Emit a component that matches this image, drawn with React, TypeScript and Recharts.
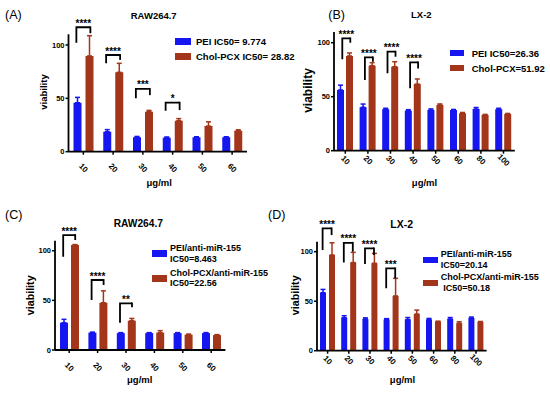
import React from 'react';
import { BarChart, Bar, XAxis, YAxis, ErrorBar, ReferenceLine, Legend } from 'recharts';

const FONT = '"Liberation Sans", Arial, Helvetica, sans-serif';
const BLUE = '#1616f0';
const BROWN = '#a3361a';

// ---------- Panel A: RAW264.7 ----------
const A_CATS = ['10', '20', '30', '40', '50', '60'];
const A_PEI = [45.9, 18.7, 13.5, 13, 13.5, 13.5];
const A_PEI_ERR = [5, 2, 0.8, 0.8, 0.5, 0.5];
const A_CHOL = [89.7, 74.4, 37.5, 29, 24, 19.7];
const A_CHOL_ERR = [19, 8.4, 1.2, 2, 4, 0.8];
const A_NAMES = ['PEI IC50= 9.774', 'Chol-PCX IC50= 28.82'];
const A_BRACKETS = [
  { cat: '10', top: 116.6, left: 102, right: 111, label: '****' },
  { cat: '20', top: 90.6, left: 82.8, right: 86, label: '****' },
  { cat: '30', top: 58.8, left: 50, right: 53, label: '***' },
  { cat: '40', top: 46, left: 38.4, right: 39, label: '*' },
];

// ---------- Panel B: LX-2 ----------
const B_CATS = ['10', '20', '30', '40', '50', '60', '80', '100'];
const B_PEI = [56.2, 40.2, 38.3, 37, 37.7, 37.7, 38.5, 38.3];
const B_PEI_ERR = [4.5, 3, 1, 1, 1, 0.5, 1.5, 1];
const B_CHOL = [87.7, 78.7, 77.8, 61.7, 42.3, 34.6, 33, 34];
const B_CHOL_ERR = [2.8, 2.8, 4.6, 4.7, 1, 0.8, 0.6, 0.5];
const B_NAMES = ['PEI IC50=26.36', 'Chol-PCX=51.92'];
const B_BRACKETS = [
  { cat: '10', top: 104, left: 84.6, right: 100, label: '****' },
  { cat: '20', top: 86.4, left: 65.5, right: 82.4, label: '****' },
  { cat: '30', top: 91.7, left: 71.7, right: 87, label: '****' },
  { cat: '40', top: 81.8, left: 57.8, right: 76, label: '****' },
];

// ---------- Panel C: RAW264.7 anti-miR-155 ----------
const C_CATS = ['10', '20', '30', '40', '50', '60'];
const C_PEI = [27.5, 17.5, 17, 17, 17, 17];
const C_PEI_ERR = [3.4, 0.5, 0.5, 0.5, 0.5, 0.5];
const C_CHOL = [105.7, 47.6, 29.5, 17.5, 15.5, 15];
const C_CHOL_ERR = [0.5, 12, 2.3, 2, 0.5, 0.5];
const C_NAMES = ['PEI/anti-miR-155\nIC50=8.463', 'Chol-PCX/anti-miR-155\nIC50=22.56'];
const C_BRACKETS = [
  { cat: '10', top: 115.8, left: 94, right: 110.8, label: '****' },
  { cat: '20', top: 70.5, left: 50.4, right: 65.5, label: '****' },
  { cat: '30', top: 47, left: 27.5, right: 43, label: '**' },
];

// ---------- Panel D: LX-2 anti-miR-155 ----------
const D_CATS = ['10', '20', '30', '40', '50', '60', '80', '100'];
const D_PEI = [58.6, 33.3, 32, 31.6, 31.5, 31.6, 32, 33];
const D_PEI_ERR = [3.3, 2, 1.2, 0.8, 2, 1, 1.5, 1];
const D_CHOL = [96.7, 89, 88.3, 55.3, 37, 29.3, 27.7, 29];
const D_CHOL_ERR = [12.3, 10.3, 10, 17.8, 4, 0.5, 1.5, 0.5];
const D_NAMES = ['PEI/anti-miR-155\nIC50=20.14', 'Chol-PCX/anti-miR-155\n IC50=50.18'];
const D_BRACKETS = [
  { cat: '10', top: 123.6, left: 101.7, right: 116.8, label: '****' },
  { cat: '20', top: 109, left: 89, right: 100, label: '****' },
  { cat: '30', top: 103.4, left: 87.6, right: 96.7, label: '****' },
  { cat: '40', top: 83.2, left: 63, right: 73, label: '***' },
];

const Y_TICKS = [0, 50, 100];
const Y_DOMAIN = [0, 110];
const SERIES_ORDER = ['pei', 'chol'];

function buildRows(cats: string[], pei: number[], peiErr: number[], chol: number[], cholErr: number[]) {
  return cats.map((c, i) => ({
    cat: c,
    pei: pei[i],
    peiErr: [0, peiErr[i]],
    chol: chol[i],
    cholErr: [0, cholErr[i]],
  }));
}

type Bracket = { cat: string; top: number; left: number; right: number; label: string };

type LegendCfg = {
  left: number;
  top: number;
  swW: number;
  swH: number;
  swGap: number;
  fontSize: number;
  lineHeight: number;
  itemGap: number;
};

type PanelProps = {
  left: number;
  top: number;
  margin: { top: number; right: number; bottom: number; left: number };
  rows: any[];
  names: string[];
  barSize: number;
  barGap: number;
  brackets: Bracket[];
  offL: number;
  offR: number;
  tickOff: number;
  legend: LegendCfg;
};

function makeTick(off: number) {
  return (p: any) => {
    const x = p.x;
    const cy = p.y + off;
    return (
      <text
        x={x}
        y={cy}
        transform={`rotate(45 ${x} ${cy})`}
        textAnchor="middle"
        dominantBaseline="central"
        fontSize={8}
        fontWeight="bold"
        fontFamily={FONT}
        fill="#000"
      >
        {p.payload.value}
      </text>
    );
  };
}

function makeLegend(cfg: LegendCfg) {
  return (props: any) => {
    const payload = [...(props.payload || [])].sort(
      (a: any, b: any) => SERIES_ORDER.indexOf(a.dataKey) - SERIES_ORDER.indexOf(b.dataKey)
    );
    return (
      <div style={{ fontFamily: FONT, fontWeight: 'bold', fontSize: cfg.fontSize, lineHeight: `${cfg.lineHeight}px`, color: '#000' }}>
        {payload.map((entry: any, i: number) => (
          <div key={i} style={{ display: 'flex', alignItems: 'center', marginBottom: cfg.itemGap }}>
            <span style={{ display: 'inline-block', width: cfg.swW, height: cfg.swH, background: entry.color, marginRight: cfg.swGap, flex: 'none' }} />
            <span style={{ whiteSpace: 'pre' }}>{entry.value}</span>
          </div>
        ))}
      </div>
    );
  };
}

function Panel(props: PanelProps) {
  const { left, top, margin, rows, names, barSize, barGap, brackets, offL, offR, tickOff, legend } = props;
  const mid = (offL + offR) / 2;
  return (
    <div style={{ position: 'absolute', left, top, width: 275, height: 197 }}>
      <BarChart width={275} height={197} data={rows} margin={margin} barSize={barSize} barGap={barGap}>
        <XAxis
          dataKey="cat"
          height={30}
          interval={0}
          tickSize={3}
          tickLine={{ stroke: '#000', strokeWidth: 1.5 }}
          axisLine={{ stroke: '#000', strokeWidth: 1.8 }}
          tick={makeTick(tickOff)}
        />
        <YAxis
          width={30}
          domain={Y_DOMAIN}
          ticks={Y_TICKS}
          allowDataOverflow
          tickSize={3}
          tickMargin={1}
          tickLine={{ stroke: '#000', strokeWidth: 1.5 }}
          axisLine={{ stroke: '#000', strokeWidth: 1.8 }}
          tick={{ fontSize: 7.5, fontWeight: 'bold', fill: '#000', fontFamily: FONT }}
        />
        <Bar dataKey="pei" name={names[0]} fill={BLUE} isAnimationActive={false}>
          <ErrorBar dataKey="peiErr" width={2.5} stroke={BLUE} strokeWidth={1.5} direction="y" />
        </Bar>
        <Bar dataKey="chol" name={names[1]} fill={BROWN} isAnimationActive={false}>
          <ErrorBar dataKey="cholErr" width={2.5} stroke={BROWN} strokeWidth={1.5} direction="y" />
        </Bar>
        {brackets.map((b) => (
          <ReferenceLine
            key={'l' + b.cat}
            ifOverflow="visible"
            segment={[{ x: b.cat, y: b.left }, { x: b.cat, y: b.top }]}
            shape={(p: any) => (
              <g>
                <path
                  d={`M${p.x1 + offL},${p.y1} L${p.x1 + offL},${p.y2} L${p.x1 + offR},${p.y2}`}
                  fill="none"
                  stroke="#000"
                  strokeWidth={1.8}
                />
                <text
                  x={p.x1 + mid}
                  y={p.y2 - 0.5}
                  textAnchor="middle"
                  fontSize={10}
                  fontWeight="bold"
                  fontFamily={FONT}
                  fill="#000"
                >
                  {b.label}
                </text>
              </g>
            )}
          />
        ))}
        {brackets.map((b) => (
          <ReferenceLine
            key={'r' + b.cat}
            ifOverflow="visible"
            segment={[{ x: b.cat, y: b.right }, { x: b.cat, y: b.top }]}
            shape={(p: any) => (
              <path
                d={`M${p.x1 + offR},${p.y1} L${p.x1 + offR},${p.y2 - 0.9}`}
                fill="none"
                stroke="#000"
                strokeWidth={1.8}
              />
            )}
          />
        ))}
        <Legend
          layout="vertical"
          align="center"
          verticalAlign="middle"
          wrapperStyle={{ left: legend.left, top: legend.top, width: 140, right: 'auto', bottom: 'auto', height: 'auto' }}
          content={makeLegend(legend)}
        />
      </BarChart>
    </div>
  );
}

const txt = { fontFamily: FONT, fill: '#000' } as const;

export default function App() {
  return (
    <div style={{ position: 'absolute', left: 0, top: 0, width: 550, height: 394, background: '#fff', overflow: 'hidden' }}>
      <Panel
        left={0}
        top={0}
        margin={{ top: 34.3, right: 28, bottom: 15.3, left: 38.5 }}
        rows={buildRows(A_CATS, A_PEI, A_PEI_ERR, A_CHOL, A_CHOL_ERR)}
        names={A_NAMES}
        barSize={8}
        barGap={4}
        brackets={A_BRACKETS}
        offL={-7}
        offR={7}
        tickOff={11.3}
        legend={{ left: 175, top: 34.2, swW: 16, swH: 7, swGap: 5, fontSize: 9.5, lineHeight: 15, itemGap: 0 }}
      />
      <Panel
        left={275}
        top={0}
        margin={{ top: 31.9, right: 35.2, bottom: 16.3, left: 29 }}
        rows={buildRows(B_CATS, B_PEI, B_PEI_ERR, B_CHOL, B_CHOL_ERR)}
        names={B_NAMES}
        barSize={7}
        barGap={2}
        brackets={B_BRACKETS}
        offL={-3}
        offR={5}
        tickOff={4.5}
        legend={{ left: 175, top: 45.8, swW: 14, swH: 6, swGap: 7.7, fontSize: 9.5, lineHeight: 15, itemGap: 0 }}
      />
      <Panel
        left={0}
        top={197}
        margin={{ top: 43.8, right: 49.6, bottom: 14, left: 25 }}
        rows={buildRows(C_CATS, C_PEI, C_PEI_ERR, C_CHOL, C_CHOL_ERR)}
        names={C_NAMES}
        barSize={8}
        barGap={3}
        brackets={C_BRACKETS}
        offL={-6}
        offR={6}
        tickOff={12}
        legend={{ left: 151.7, top: 46.4, swW: 15, swH: 7, swGap: 3.3, fontSize: 9, lineHeight: 10.6, itemGap: 3 }}
      />
      <Panel
        left={275}
        top={197}
        margin={{ top: 44.8, right: 63.4, bottom: 13.3, left: 12 }}
        rows={buildRows(D_CATS, D_PEI, D_PEI_ERR, D_CHOL, D_CHOL_ERR)}
        names={D_NAMES}
        barSize={6}
        barGap={3}
        brackets={D_BRACKETS}
        offL={-5}
        offR={4}
        tickOff={4.5}
        legend={{ left: 148.3, top: 51.8, swW: 15, swH: 6, swGap: 2.4, fontSize: 9, lineHeight: 11, itemGap: 1.5 }}
      />
      <svg width={550} height={394} style={{ position: 'absolute', left: 0, top: 0, pointerEvents: 'none' }}>
        <text x={5} y={18.8} fontSize={12.5} {...txt}>(A)</text>
        <text x={328.3} y={18.6} fontSize={12.5} {...txt}>(B)</text>
        <text x={5} y={219.2} fontSize={12.5} {...txt}>(C)</text>
        <text x={268} y={219} fontSize={12.5} {...txt}>(D)</text>

        <text x={153.7} y={18.7} fontSize={9.5} fontWeight="bold" textAnchor="middle" {...txt}>RAW264.7</text>
        <text x={421.3} y={18.4} fontSize={9.5} fontWeight="bold" textAnchor="middle" {...txt}>LX-2</text>
        <text x={138.3} y={227} fontSize={10.2} fontWeight="bold" textAnchor="middle" {...txt}>RAW264.7</text>
        <text x={401.7} y={227.8} fontSize={10.5} fontWeight="bold" textAnchor="middle" {...txt}>LX-2</text>

        <text x={43} y={92} transform="rotate(-90 43 92)" fontSize={9.5} fontWeight="bold" textAnchor="middle" dominantBaseline="central" {...txt}>viability</text>
        <text x={307.5} y={90.5} transform="rotate(-90 307.5 90.5)" fontSize={12} fontWeight="bold" textAnchor="middle" dominantBaseline="central" {...txt}>viability</text>
        <text x={30.3} y={295.3} transform="rotate(-90 30.3 295.3)" fontSize={10.7} fontWeight="bold" textAnchor="middle" dominantBaseline="central" {...txt}>viability</text>
        <text x={295.3} y={295.3} transform="rotate(-90 295.3 295.3)" fontSize={10.7} fontWeight="bold" textAnchor="middle" dominantBaseline="central" {...txt}>viability</text>

        <text x={159.2} y={182.7} fontSize={9.5} fontWeight="bold" textAnchor="middle" dominantBaseline="central" {...txt}>μg/ml</text>
        <text x={424.5} y={182.7} fontSize={9.5} fontWeight="bold" textAnchor="middle" dominantBaseline="central" {...txt}>μg/ml</text>
        <text x={139.7} y={379.7} fontSize={9.5} fontWeight="bold" textAnchor="middle" dominantBaseline="central" {...txt}>μg/ml</text>
        <text x={402.5} y={379.7} fontSize={9.5} fontWeight="bold" textAnchor="middle" dominantBaseline="central" {...txt}>μg/ml</text>
      </svg>
    </div>
  );
}
